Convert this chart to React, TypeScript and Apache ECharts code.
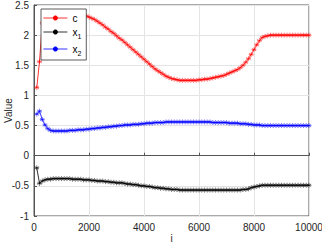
import React, { useEffect, useRef } from "react";
import * as echarts from "echarts";

const iterations: number[] = Array.from({ length: 100 }, (_, k) => (k + 1) * 100);

const cValues = [
  1.13, 1.56, 2.2, 2.31, 2.34, 2.36, 2.37, 2.38, 2.38, 2.38,
  2.38, 2.38, 2.37, 2.37, 2.36, 2.35, 2.34, 2.33, 2.32, 2.3,
  2.28, 2.26, 2.23, 2.2, 2.17, 2.13, 2.1, 2.06, 2.03, 1.99,
  1.95, 1.92, 1.88, 1.84, 1.8, 1.76, 1.72, 1.68, 1.64, 1.6,
  1.56, 1.52, 1.48, 1.44, 1.41, 1.38, 1.35, 1.32, 1.3, 1.28,
  1.27, 1.26, 1.25, 1.25, 1.25, 1.25, 1.25, 1.25, 1.25, 1.26,
  1.26, 1.27, 1.27, 1.28, 1.29, 1.3, 1.31, 1.32, 1.33, 1.35,
  1.37, 1.39, 1.41, 1.43, 1.46, 1.5, 1.55, 1.61, 1.68, 1.76,
  1.84, 1.91, 1.96, 1.98, 1.99, 2.0, 2.0, 2.0, 2.0, 2.0,
  2.0, 2.0, 2.0, 2.0, 2.0, 2.0, 2.0, 2.0, 2.0, 2.0,
];

const x1Values = [
  -0.2, -0.46, -0.42, -0.4, -0.39, -0.39, -0.38, -0.38, -0.38, -0.38,
  -0.38, -0.38, -0.38, -0.39, -0.39, -0.39, -0.39, -0.4, -0.4, -0.4,
  -0.41, -0.41, -0.42, -0.42, -0.42, -0.43, -0.43, -0.44, -0.44, -0.45,
  -0.45, -0.45, -0.46, -0.47, -0.47, -0.48, -0.48, -0.49, -0.5, -0.5,
  -0.51, -0.51, -0.52, -0.53, -0.53, -0.54, -0.54, -0.55, -0.55, -0.56,
  -0.56, -0.56, -0.57, -0.57, -0.57, -0.57, -0.57, -0.57, -0.57, -0.57,
  -0.57, -0.57, -0.57, -0.57, -0.57, -0.57, -0.57, -0.57, -0.57, -0.57,
  -0.57, -0.57, -0.57, -0.57, -0.57, -0.56, -0.56, -0.55, -0.53, -0.52,
  -0.51, -0.5, -0.49, -0.49, -0.49, -0.49, -0.49, -0.49, -0.49, -0.49,
  -0.49, -0.49, -0.49, -0.49, -0.49, -0.49, -0.49, -0.49, -0.49, -0.49,
];

const x2Values = [
  0.69, 0.74, 0.6, 0.51, 0.45, 0.42, 0.41, 0.41, 0.41, 0.41,
  0.41, 0.41, 0.42, 0.42, 0.42, 0.43, 0.43, 0.43, 0.44, 0.44,
  0.45, 0.45, 0.46, 0.46, 0.47, 0.47, 0.48, 0.48, 0.49, 0.49,
  0.5, 0.5, 0.51, 0.51, 0.51, 0.52, 0.52, 0.52, 0.53, 0.53,
  0.54, 0.54, 0.54, 0.55, 0.55, 0.55, 0.55, 0.56, 0.56, 0.56,
  0.56, 0.56, 0.56, 0.56, 0.56, 0.56, 0.56, 0.56, 0.56, 0.56,
  0.56, 0.56, 0.56, 0.56, 0.55, 0.55, 0.55, 0.55, 0.55, 0.55,
  0.54, 0.54, 0.54, 0.54, 0.53, 0.53, 0.53, 0.52, 0.52, 0.51,
  0.51, 0.51, 0.5, 0.5, 0.5, 0.5, 0.5, 0.5, 0.5, 0.5,
  0.5, 0.5, 0.5, 0.5, 0.5, 0.5, 0.5, 0.5, 0.5, 0.5,
];

const seriesNames = ["c", "x1", "x2"];
const seriesColors = ["#ff0000", "#000000", "#0000ff"];

const STAR = "path://M0,-5L0,5M-4.33,-2.5L4.33,2.5M-4.33,2.5L4.33,-2.5M-5,0L5,0";
const FONT = "Liberation Sans";

export default function App() {
  const ref = useRef<HTMLDivElement>(null);
  useEffect(() => {
    if (!ref.current) return;
    const chart = echarts.init(ref.current, undefined, { renderer: "svg" });
    const allValues = [cValues, x1Values, x2Values];
    chart.setOption({
      animation: false,
      textStyle: { fontFamily: FONT },
      grid: {
        left: 34,
        right: 13,
        top: 5,
        bottom: 29,
        show: true,
        borderColor: "#555",
        borderWidth: 1,
        backgroundColor: "#fff",
        containLabel: false,
        outerBoundsMode: "none",
      },
      legend: {
        orient: "vertical",
        left: 41,
        top: 9,
        padding: [4, 5, 3, 2],
        itemGap: 4,
        itemWidth: 24,
        itemHeight: 6,
        backgroundColor: "#fff",
        borderColor: "#333",
        borderWidth: 0.8,
        lineStyle: { width: 0.8 },
        data: seriesNames,
        formatter: (name: string) =>
          name === "c" ? "{n|c}" : "{n|x}{s|" + name.slice(1) + "}",
        textStyle: {
          fontFamily: FONT,
          rich: {
            n: { fontSize: 10, color: "#000", fontFamily: FONT },
            s: { fontSize: 7, color: "#000", fontFamily: FONT, padding: [9, 0, 0, 0] },
          },
        },
      },
      xAxis: {
        type: "value",
        min: 0,
        max: 10000,
        interval: 2000,
        name: "i",
        nameLocation: "middle",
        nameGap: 17,
        nameMoveOverlap: false,
        nameTextStyle: { fontSize: 10, lineHeight: 10, color: "#262626", fontFamily: FONT },
        axisLine: { show: true, lineStyle: { color: "#555", width: 1 } },
        axisTick: { show: true, inside: true, length: 3, lineStyle: { color: "#555" } },
        axisLabel: {
          fontSize: 10,
          color: "#262626",
          margin: 6,
          fontFamily: FONT,
          formatter: (v: number) => String(v),
        },
        splitLine: { show: true, lineStyle: { color: "#e4e4e4", width: 1 } },
      },
      yAxis: {
        type: "value",
        min: -1,
        max: 2.5,
        interval: 0.5,
        name: "Value",
        nameLocation: "middle",
        nameGap: 21,
        nameMoveOverlap: false,
        nameTextStyle: { fontSize: 10, lineHeight: 10, color: "#262626", fontFamily: FONT },
        axisLine: { show: true, lineStyle: { color: "#555", width: 1 } },
        axisTick: { show: true, inside: true, length: 3, lineStyle: { color: "#555" } },
        axisLabel: { fontSize: 10, color: "#262626", margin: 5, fontFamily: FONT },
        splitLine: { show: true, lineStyle: { color: "#e4e4e4", width: 1 } },
      },
      series: seriesNames.map((name, idx) => ({
        name,
        type: "line",
        data: iterations.map((it, k) => [it, allValues[idx][k]]),
        symbol: STAR,
        symbolSize: 5,
        showSymbol: true,
        showAllSymbol: true,
        lineStyle: { color: seriesColors[idx], width: 0.8 },
        itemStyle: {
          color: seriesColors[idx],
          borderColor: seriesColors[idx],
          borderWidth: 0.5,
        },
        emphasis: { disabled: true },
      })),
    });
    return () => chart.dispose();
  }, []);
  return (
    <div
      ref={ref}
      style={{ position: "fixed", left: 0, top: 0, width: 322, height: 245, background: "#fff" }}
    />
  );
}
